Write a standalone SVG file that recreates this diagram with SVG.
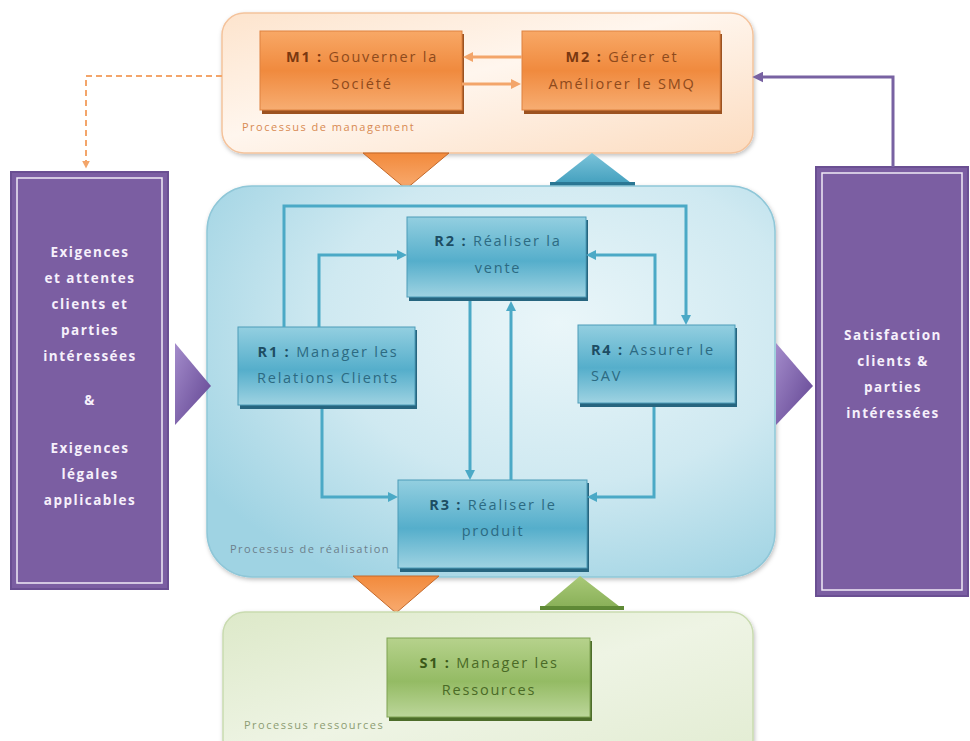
<svg xmlns="http://www.w3.org/2000/svg" width="970" height="741" viewBox="0 0 970 741">
  <defs>
    <style>
      .box-text { font-family: "Open Sans", "Liberation Sans", sans-serif; font-size: 14.5px; letter-spacing: 1.8px; }
      .side-text { font-family: "Open Sans", "Liberation Sans", sans-serif; font-size: 13.5px; font-weight: bold; fill: #f6f0fb; letter-spacing: 1.5px; text-anchor: middle; }
      .group-label { font-family: "Open Sans", "Liberation Sans", sans-serif; font-size: 11px; letter-spacing: 1.5px; }
      .m-text { fill: #8e4a1c; }
      .r-text { fill: #2c6a82; }
      .s-text { fill: #4a6a26; }
      .key { font-weight: bold; }
      .blue-link { fill: none; stroke: #4ba9c6; stroke-width: 3; marker-end: url(#arrow-blue); }
      .orange-link { fill: none; stroke: #f3a56a; stroke-width: 3; marker-end: url(#arrow-orange); }
    </style>

    <linearGradient id="g-mgmt" x1="0" y1="0" x2="1" y2="1">
      <stop offset="0" stop-color="#fde4cd"/>
      <stop offset="0.45" stop-color="#fff6ee"/>
      <stop offset="1" stop-color="#fcdcc0"/>
    </linearGradient>
    <linearGradient id="g-orange-box" x1="0" y1="0" x2="0" y2="1">
      <stop offset="0" stop-color="#f8a866"/>
      <stop offset="0.5" stop-color="#f08a3e"/>
      <stop offset="1" stop-color="#f7ad72"/>
    </linearGradient>
    <radialGradient id="g-real" cx="0.62" cy="0.35" r="0.75">
      <stop offset="0" stop-color="#eaf6f9"/>
      <stop offset="0.55" stop-color="#cfe9f1"/>
      <stop offset="1" stop-color="#9fd3e3"/>
    </radialGradient>
    <linearGradient id="g-blue-box" x1="0" y1="0" x2="0" y2="1">
      <stop offset="0" stop-color="#93cfe0"/>
      <stop offset="0.55" stop-color="#55aecb"/>
      <stop offset="1" stop-color="#9fd3e2"/>
    </linearGradient>
    <linearGradient id="g-res" x1="0" y1="0" x2="1" y2="1">
      <stop offset="0" stop-color="#dde9c9"/>
      <stop offset="0.5" stop-color="#eef4e4"/>
      <stop offset="1" stop-color="#e2ecd2"/>
    </linearGradient>
    <linearGradient id="g-green-box" x1="0" y1="0" x2="0" y2="1">
      <stop offset="0" stop-color="#b6d28c"/>
      <stop offset="0.55" stop-color="#94bb64"/>
      <stop offset="1" stop-color="#bcd69a"/>
    </linearGradient>
    <linearGradient id="g-orange-tri" x1="0" y1="0" x2="0" y2="1">
      <stop offset="0" stop-color="#f28a3c"/>
      <stop offset="1" stop-color="#f8ab70"/>
    </linearGradient>
    <linearGradient id="g-blue-tri" x1="0" y1="0" x2="0" y2="1">
      <stop offset="0" stop-color="#7cc4da"/>
      <stop offset="1" stop-color="#3f9dbc"/>
    </linearGradient>
    <linearGradient id="g-green-tri" x1="0" y1="0" x2="0" y2="1">
      <stop offset="0" stop-color="#a9c978"/>
      <stop offset="1" stop-color="#86ae55"/>
    </linearGradient>
    <linearGradient id="g-purple-tri" x1="0" y1="0" x2="1" y2="1">
      <stop offset="0" stop-color="#a48ccb"/>
      <stop offset="1" stop-color="#5f4290"/>
    </linearGradient>

    <filter id="soft-shadow" x="-10%" y="-10%" width="120%" height="125%">
      <feDropShadow dx="1" dy="2" stdDeviation="2" flood-color="#000" flood-opacity="0.25"/>
    </filter>

    <marker id="arrow-blue" viewBox="0 0 10 10" refX="3" refY="5" markerWidth="10" markerHeight="10" markerUnits="userSpaceOnUse" orient="auto">
      <path d="M0,0 L10,5 L0,10 z" fill="#4ba9c6"/>
    </marker>
    <marker id="arrow-orange" viewBox="0 0 10 10" refX="3" refY="5" markerWidth="10" markerHeight="10" markerUnits="userSpaceOnUse" orient="auto">
      <path d="M0,0 L10,5 L0,10 z" fill="#f3a56a"/>
    </marker>
    <marker id="arrow-dash" viewBox="0 0 10 10" refX="3" refY="5" markerWidth="8" markerHeight="8" markerUnits="userSpaceOnUse" orient="auto">
      <path d="M0,0 L10,5 L0,10 z" fill="#f3a56a"/>
    </marker>
    <marker id="arrow-purple" viewBox="0 0 10 10" refX="3" refY="5" markerWidth="11" markerHeight="11" markerUnits="userSpaceOnUse" orient="auto">
      <path d="M0,0 L10,5 L0,10 z" fill="#7862a2"/>
    </marker>
  </defs>

  <rect width="970" height="741" fill="#ffffff"/>

  <!-- Management process band -->
  <g id="management">
    <rect x="222" y="13" width="531" height="140" rx="22" fill="url(#g-mgmt)" stroke="#f4c39c" stroke-width="1.5" filter="url(#soft-shadow)"/>
    <text class="group-label" x="242" y="131" fill="#d88a52">Processus de management</text>
  </g>

  <g id="m1">
    <rect x="262" y="34" width="202" height="80" fill="#9c5220"/>
    <rect x="260" y="31" width="202" height="79" fill="url(#g-orange-box)" stroke="#de8240" stroke-width="1"/>
    <text class="box-text m-text" text-anchor="middle" x="362" y="62"><tspan class="key" fill="#7a3810">M1 :</tspan> Gouverner la</text>
    <text class="box-text m-text" text-anchor="middle" x="362" y="89">Société</text>
  </g>

  <g id="m2">
    <rect x="524" y="34" width="198" height="80" fill="#9c5220"/>
    <rect x="522" y="31" width="198" height="79" fill="url(#g-orange-box)" stroke="#de8240" stroke-width="1"/>
    <text class="box-text m-text" text-anchor="middle" x="622" y="62"><tspan class="key" fill="#7a3810">M2 :</tspan> Gérer et</text>
    <text class="box-text m-text" text-anchor="middle" x="622" y="89">Améliorer le SMQ</text>
  </g>

  <!-- Flow triangles between bands -->
  <g id="flow-top">
    <polygon points="363,153 449,153 406,189" fill="url(#g-orange-tri)" stroke="#c4692a" stroke-width="1"/>
    <polygon points="550,186 635,186 592,153" fill="url(#g-blue-tri)"/>
    <rect x="550" y="182" width="85" height="4" fill="#2b7896"/>
  </g>

  <!-- Realisation process band -->
  <g id="realisation">
    <rect x="207" y="186" width="568" height="391" rx="45" fill="url(#g-real)" stroke="#8fc7d8" stroke-width="1.5" filter="url(#soft-shadow)"/>
    <text class="group-label" x="230" y="553" fill="#6c7f8c">Processus de réalisation</text>
  </g>

  <g id="r2">
    <rect x="409" y="220" width="179" height="81" fill="#26657f"/>
    <rect x="407" y="217" width="179" height="80" fill="url(#g-blue-box)" stroke="#4d9cb8" stroke-width="1"/>
    <text class="box-text r-text" text-anchor="middle" x="498" y="246"><tspan class="key" fill="#1d4d63">R2 :</tspan> Réaliser la</text>
    <text class="box-text r-text" text-anchor="middle" x="498" y="273">vente</text>
  </g>

  <g id="r1">
    <rect x="240" y="330" width="177" height="79" fill="#26657f"/>
    <rect x="238" y="327" width="177" height="78" fill="url(#g-blue-box)" stroke="#4d9cb8" stroke-width="1"/>
    <text class="box-text r-text" text-anchor="middle" x="328" y="357"><tspan class="key" fill="#1d4d63">R1 :</tspan> Manager les</text>
    <text class="box-text r-text" text-anchor="middle" x="328" y="383">Relations Clients</text>
  </g>

  <g id="r4">
    <rect x="580" y="328" width="157" height="79" fill="#26657f"/>
    <rect x="578" y="325" width="157" height="78" fill="url(#g-blue-box)" stroke="#4d9cb8" stroke-width="1"/>
    <text class="box-text r-text" x="591" y="355"><tspan class="key" fill="#1d4d63">R4 :</tspan> Assurer le</text>
    <text class="box-text r-text" x="591" y="381">SAV</text>
  </g>

  <g id="r3">
    <rect x="400" y="483" width="189" height="89" fill="#26657f"/>
    <rect x="398" y="480" width="189" height="88" fill="url(#g-blue-box)" stroke="#4d9cb8" stroke-width="1"/>
    <text class="box-text r-text" text-anchor="middle" x="493" y="510"><tspan class="key" fill="#1d4d63">R3 :</tspan> Réaliser le</text>
    <text class="box-text r-text" text-anchor="middle" x="493" y="536">produit</text>
  </g>

  <g id="flow-bottom">
    <polygon points="353,576 439,576 396,613" fill="url(#g-orange-tri)" stroke="#c4692a" stroke-width="1"/>
    <polygon points="540,610 624,610 580,576" fill="url(#g-green-tri)"/>
    <rect x="540" y="606" width="84" height="4" fill="#5f8a36"/>
  </g>

  <!-- Resources process band -->
  <g id="resources">
    <rect x="223" y="612" width="530" height="150" rx="22" fill="url(#g-res)" stroke="#c9dbb0" stroke-width="1.5" filter="url(#soft-shadow)"/>
    <text class="group-label" x="244" y="729" fill="#8c9c72">Processus ressources</text>
  </g>

  <g id="s1">
    <rect x="389" y="641" width="203" height="80" fill="#4d6d2a"/>
    <rect x="387" y="638" width="203" height="79" fill="url(#g-green-box)" stroke="#7ea252" stroke-width="1"/>
    <text class="box-text s-text" text-anchor="middle" x="489" y="668"><tspan class="key" fill="#3a5818">S1 :</tspan> Manager les</text>
    <text class="box-text s-text" text-anchor="middle" x="489" y="695">Ressources</text>
  </g>

  <!-- Inputs and outputs -->
  <g id="requirements">
    <rect x="11" y="172" width="157" height="417" fill="#7b5ea2" stroke="#6a4f92" stroke-width="2"/>
    <rect x="17" y="178" width="145" height="405" fill="none" stroke="#f0eaf6" stroke-width="1.5"/>
    <text class="side-text" x="90" y="257">Exigences</text>
    <text class="side-text" x="90" y="283">et attentes</text>
    <text class="side-text" x="90" y="309">clients et</text>
    <text class="side-text" x="90" y="335">parties</text>
    <text class="side-text" x="90" y="361">intéressées</text>
    <text class="side-text" x="90" y="405">&amp;</text>
    <text class="side-text" x="90" y="453">Exigences</text>
    <text class="side-text" x="90" y="479">légales</text>
    <text class="side-text" x="90" y="505">applicables</text>
  </g>
  <polygon id="input-arrow" points="175,343 211,386 175,425" fill="url(#g-purple-tri)"/>

  <g id="satisfaction">
    <rect x="816" y="167" width="152" height="429" fill="#7b5ea2" stroke="#6a4f92" stroke-width="2"/>
    <rect x="822" y="173" width="140" height="417" fill="none" stroke="#f0eaf6" stroke-width="1.5"/>
    <text class="side-text" x="893" y="340">Satisfaction</text>
    <text class="side-text" x="893" y="366">clients &amp;</text>
    <text class="side-text" x="893" y="392">parties</text>
    <text class="side-text" x="893" y="418">intéressées</text>
  </g>
  <polygon id="output-arrow" points="776,343 813,386 776,425" fill="url(#g-purple-tri)"/>

  <!-- Connectors -->
  <g id="connectors">
    <path class="orange-link" d="M522,57 H470"/>
    <path class="orange-link" d="M462,84 H514"/>
    <path d="M222,76 H86 V163" fill="none" stroke="#f3a56a" stroke-width="2" stroke-dasharray="6 4" marker-end="url(#arrow-dash)"/>
    <path d="M893,167 V77 H760" fill="none" stroke="#7862a2" stroke-width="3" marker-end="url(#arrow-purple)"/>

    <path class="blue-link" d="M284,327 V206 H686 V318"/>
    <path class="blue-link" d="M319,327 V255 H400"/>
    <path class="blue-link" d="M655,325 V255 H593"/>
    <path class="blue-link" d="M470,301 V473"/>
    <path class="blue-link" d="M511,480 V308"/>
    <path class="blue-link" d="M322,409 V497 H391"/>
    <path class="blue-link" d="M654,407 V497 H594"/>
  </g>
</svg>
